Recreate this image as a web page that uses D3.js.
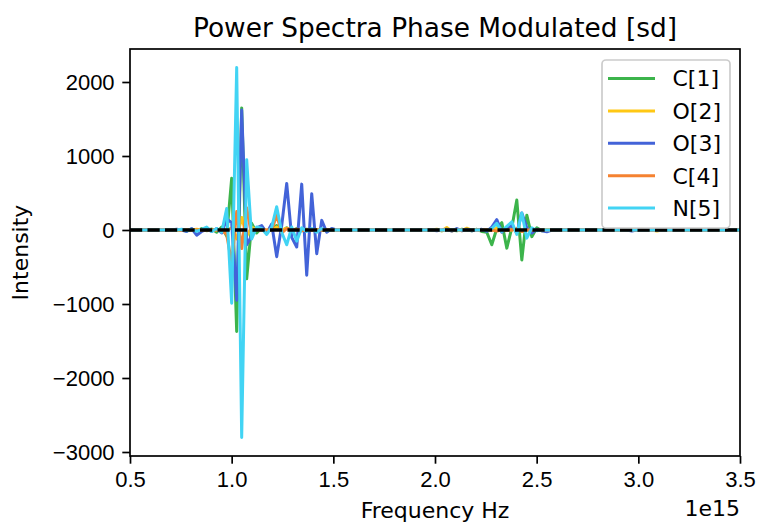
<!DOCTYPE html>
<html>
<head>
<meta charset="utf-8">
<script src="https://cdn.jsdelivr.net/npm/d3@7"></script>
<style>
  body { margin: 0; background: #fff; }
  svg { display: block; font-family: "DejaVu Sans", sans-serif; }
  .axis text { font-size: 22px; fill: #000; }
  .axis line { stroke: #000; stroke-width: 1.7; }
</style>
</head>
<body>
<div id="chart"></div>
<script>
// frequency grid (units of 1e15 Hz)
let freqs = [0.5,
  0.6803, 0.7049, 0.7295, 0.7541, 0.7787, 0.8033, 0.8279, 0.8525, 0.8771, 0.9017,
  0.9263, 0.9509, 0.9755, 1.0001, 1.0247, 1.0493, 1.0739, 1.0985, 1.1231, 1.1477,
  1.1723, 1.1969, 1.2215, 1.2461, 1.2707, 1.2953, 1.3199, 1.3445, 1.3691, 1.3937,
  1.4183, 1.4429, 1.4675, 1.4921, 1.5167,
  1.9595, 1.9841, 2.0087, 2.0333, 2.0579, 2.0825, 2.1071, 2.1317, 2.1563, 2.1809,
  2.2055, 2.2301, 2.2547, 2.2793, 2.3039, 2.3285, 2.3531, 2.3777, 2.4023, 2.4269,
  2.4515, 2.4761, 2.5007, 2.5253, 2.5499, 2.5745,
  2.9435, 2.9681, 2.9927, 3.0173, 3.0419, 3.0665, 3.0911, 3.1157,
  3.5]

let c1 = [0,
  0, 0, 0, 5, -10, 10, -15, 20, -10, 15,
  -30, 40, -80, 700, -1370, 1650, -660, 90, -40, 30,
  -20, 10, 60, -20, 30, -10, 20, -10, 10, 0,
  5, 0, 0, 0, 0,
  0, 0, 0, -10, 10, 0, -10, 10, 0, -10,
  10, -20, -30, -200, 20, 100, -245, 30, 405, -405,
  200, -90, 30, -10, 0, 0,
  0, 0, 0, 0, 0, 0, 10, 0,
  0]

let o2 = [0,
  0, 0, 0, 0, 0, 0, 10, 0, 0, 0,
  0, 0, 0, 30, -120, 170, -80, 40, 0, 0,
  0, 0, 40, 0, 25, 0, 0, 10, 0, 0,
  0, 0, 0, 0, 0,
  0, 0, 10, -10, 35, -15, 10, -10, 25, -5,
  5, 0, 0, 0, 20, -15, 0, 0, 15, -10,
  0, 0, 0, 0, 0, 0,
  0, 0, 0, 15, 0, 0, -15, 0,
  0]

let o3 = [0,
  0, 0, 10, 0, -20, 20, -70, -20, 10, -20,
  20, -40, 150, 100, -950, 1620, -200, -80, 30, 60,
  -40, 80, -360, 60, 630, -100, -230, 620, -610, 490,
  -320, 130, -30, 20, 0,
  0, 0, -10, 0, 10, -15, 20, -10, 10, -10,
  0, 10, -20, 40, 140, -30, 30, 60, -40, 230,
  30, -40, 10, -10, -25, 0,
  0, -15, 0, 0, 0, 0, 0, 0,
  0]

let c4 = [0,
  0, 0, 0, 0, 0, 0, 0, 0, 0, 0,
  0, 0, -60, -450, 250, -250, 300, -80, 20, 0,
  0, 0, 200, -40, 20, 0, 10, -10, 0, 0,
  0, 0, 0, 0, 0,
  0, 0, 0, 0, 0, 0, 0, 0, 0, 0,
  0, 0, 0, 0, -15, 0, 0, 0, 20, -20,
  0, 0, 0, 0, 0, 0,
  0, 0, 0, 0, 0, 0, 0, 0,
  0]

let n5 = [0,
  0, 0, 0, 10, -10, 10, -20, 10, 40, -20,
  20, -30, 290, -990, 2195, -2805, 950, -120, 40, 20,
  -60, 40, 315, -30, -200, 40, -150, 30, -20, 20,
  -30, 20, -10, 0, 0,
  0, 0, 0, 0, 0, 0, 0, 0, 0, 0,
  0, 0, -10, 20, 90, -20, 50, 110, -60, 230,
  -110, 30, -10, 0, 0, 0,
  0, 0, 0, 0, 0, 0, 0, 0,
  0]

let seriesNames = ["C[1]", "O[2]", "O[3]", "C[4]", "N[5]"]
let seriesColors = ["#3cb44b", "#ffc814", "#4363d8", "#f58231", "#42d4f4"]
let seriesValues = [c1, o2, o3, c4, n5]

let xTicks = [0.5, 1.0, 1.5, 2.0, 2.5, 3.0, 3.5]
let yTicks = [-3000, -2000, -1000, 0, 1000, 2000]

let margin = {top: 49, right: 19, bottom: 67, left: 130},
  width = 759 - margin.left - margin.right,
  height = 523 - margin.top - margin.bottom;

let svg = d3.select("#chart")
  .append("svg")
  .attr("width", 759)
  .attr("height", 523)

let chart = svg.append("g")
  .attr("transform", "translate(" + margin.left + "," + margin.top + ")");

let x = d3.scaleLinear()
  .domain([0.5, 3.5])
  .range([0, width]);

let y = d3.scaleLinear()
  .domain([-3054, 2446])
  .range([height, 0]);

chart.append("clipPath")
  .attr("id", "clip")
  .append("rect")
  .attr("width", width)
  .attr("height", height);

let line = d3.line()
  .x(function(d) { return x(d[0]) })
  .y(function(d) { return y(d[1]) });

let plot = chart.append("g").attr("clip-path", "url(#clip)");

seriesValues.forEach(function(vals, i) {
  plot.append("path")
    .datum(freqs.map(function(f, k) { return [f, vals[k]] }))
    .attr("d", line)
    .attr("fill", "none")
    .attr("stroke", seriesColors[i])
    .attr("stroke-width", 3)
    .attr("stroke-linejoin", "round");
});

// zero line
plot.append("line")
  .attr("x1", 0)
  .attr("x2", width)
  .attr("y1", y(0))
  .attr("y2", y(0))
  .attr("stroke", "#000")
  .attr("stroke-width", 3.3)
  .attr("stroke-dasharray", "12.2,5.3");

// axes
chart.append("g")
  .attr("class", "axis")
  .attr("transform", "translate(0," + height + ")")
  .call(d3.axisBottom(x).tickValues(xTicks).tickFormat(d3.format(".1f")).tickSize(7.7).tickPadding(7.7))
  .call(g => g.select(".domain").remove())

chart.append("g")
  .attr("class", "axis")
  .call(d3.axisLeft(y).tickValues(yTicks).tickFormat(d3.format("d")).tickSize(7.7).tickPadding(7.7))
  .call(g => g.select(".domain").remove())

// frame
chart.append("rect")
  .attr("width", width)
  .attr("height", height)
  .attr("fill", "none")
  .attr("stroke", "#000")
  .attr("stroke-width", 1.7);

// texts
svg.append("text")
  .attr("x", margin.left + width / 2)
  .attr("y", 37)
  .attr("text-anchor", "middle")
  .style("font-size", "26.4px")
  .text("Power Spectra Phase Modulated [sd]");

svg.append("text")
  .attr("x", margin.left + width / 2)
  .attr("y", 518)
  .attr("text-anchor", "middle")
  .style("font-size", "22px")
  .text("Frequency Hz");

svg.append("text")
  .attr("x", margin.left + width)
  .attr("y", 516)
  .attr("text-anchor", "end")
  .style("font-size", "22px")
  .text("1e15");

svg.append("text")
  .attr("transform", "translate(28," + (margin.top + height / 2) + ") rotate(-90)")
  .attr("text-anchor", "middle")
  .style("font-size", "22px")
  .text("Intensity");

// legend
let legend = svg.append("g");

legend.append("rect")
  .attr("x", 602)
  .attr("y", 60)
  .attr("width", 128)
  .attr("height", 168)
  .attr("rx", 4)
  .attr("fill", "#fff")
  .attr("fill-opacity", 0.8)
  .attr("stroke", "#cccccc")
  .attr("stroke-width", 1.7);

seriesNames.forEach(function(name, i) {
  let ly = 78.5 + i * 32.4;
  legend.append("line")
    .attr("x1", 608)
    .attr("x2", 655)
    .attr("y1", ly)
    .attr("y2", ly)
    .attr("stroke", seriesColors[i])
    .attr("stroke-width", 3);
  legend.append("text")
    .attr("x", 672.5)
    .attr("y", ly)
    .attr("dy", "0.36em")
    .style("font-size", "22px")
    .text(name);
});
</script>
</body>
</html>
